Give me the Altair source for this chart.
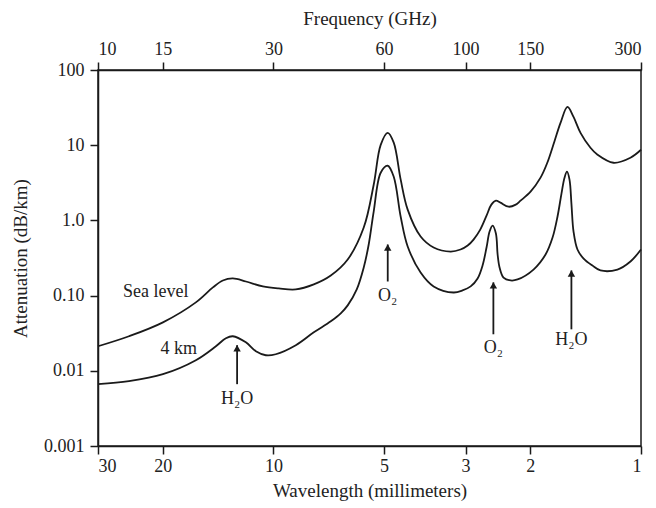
import altair as alt
import pandas as pd

# Sea level curve (frequency GHz, attenuation dB/km)
sea_f = [10, 12.14, 15.02, 18.46, 20.54, 21.86, 23.27, 25.25, 28.08, 31.03,
         34.52, 38.64, 42.98, 47.78, 52.83, 56.23, 58.75, 61.38,
         63.75, 66.59, 69.57, 75.44, 81.85, 91.03, 96.86, 101.3, 105.1, 109.6,
         114.0, 117.5, 120.9, 124.4, 130.9, 136.9, 141.1, 150.2, 159.9, 166.8,
         174.6, 181.2, 189.3, 196.6, 205.4, 218.6, 228.5, 252.5, 280.8, 300]
sea_a = [0.0212, 0.0288, 0.0441, 0.0813, 0.1285, 0.159, 0.169, 0.154, 0.1325, 0.1245,
         0.121, 0.141, 0.185, 0.302, 0.803, 2.98, 10.1, 14.6,
         10.8, 3.48, 1.39, 0.61, 0.436, 0.385, 0.410, 0.463, 0.556, 0.755,
         1.158, 1.62, 1.83, 1.72, 1.52, 1.62, 1.83, 2.41, 3.70, 5.84,
         11.4, 19.8, 32.3, 23.8, 14.6, 9.24, 7.46, 5.84, 6.81, 8.69]

# 4 km curve
km_f = [10, 12.14, 15.02, 18.46, 20.93, 22.28, 23.27, 25.25, 26.88, 28.61,
        30.45, 34.52, 38.64, 42.98, 45.74, 47.78, 50.57, 52.83, 54.50, 56.23,
        58.75, 61.38, 63.75, 66.59, 69.57, 75.44, 81.85,
        92.74, 98.1, 103.2, 107.8, 111.2, 114.0, 116.2, 118.4, 120.9, 122.2,
        123.7, 126.8, 132.6, 138.5, 153.0, 165.0, 172.4, 177.8, 182.3, 185.8,
        188.7, 191.7, 194.1, 196.6, 201.5, 209.4, 221.3, 232.7, 258.8, 280.8, 300]
km_a = [0.00664, 0.00728, 0.00901, 0.01382, 0.0212, 0.0271, 0.0288, 0.0239, 0.0182, 0.0161,
        0.0166, 0.0219, 0.0325, 0.0455, 0.0581, 0.0741, 0.121, 0.2366, 0.478, 1.31,
        4.30, 5.33, 3.81, 1.12, 0.45, 0.203, 0.1325,
        0.110, 0.1172, 0.1325, 0.169, 0.2515, 0.436, 0.710, 0.853, 0.668, 0.352,
        0.2366, 0.174, 0.159, 0.164, 0.222, 0.352, 0.591, 1.12, 2.27, 3.70,
        4.44, 3.48, 1.62, 0.710, 0.410, 0.311, 0.251, 0.216, 0.222, 0.284, 0.410]

# Annotation arrows: x (GHz), tail, tip (dB/km), label and label position
arr_f = [23.9, 61.4, 119, 194]
arr_tail = [0.00664, 0.154, 0.0306, 0.0356]
arr_tip = [0.0219, 0.478, 0.150, 0.216]
arr_lab = ["H\u2082O", "O\u2082", "O\u2082", "H\u2082O"]
arr_lab_y = [0.0042, 0.0975, 0.020, 0.0255]

curve_lab = ["Sea level", "4 km"]
curve_lab_f = [11.7, 14.8]
curve_lab_a = [0.110, 0.0193]

tick_vals = [10, 15, 30, 60, 100, 150, 300]
y_vals = [0.001, 0.01, 0.1, 1, 10, 100]

FONT = "Liberation Serif"
INK = "#1a1a1a"
TXT = "#222222"

df = pd.DataFrame(
    [{"f": f, "a": a, "s": "Sea level"} for f, a in zip(sea_f, sea_a)]
    + [{"f": f, "a": a, "s": "4 km"} for f, a in zip(km_f, km_a)]
)
arr = pd.DataFrame({"f": arr_f, "tail": arr_tail, "tip": arr_tip,
                    "lab": arr_lab, "ly": arr_lab_y})
clab = pd.DataFrame({"lab": curve_lab, "f": curve_lab_f, "a": curve_lab_a})

xs = alt.Scale(type="log", domain=[10, 300], nice=False)
ys = alt.Scale(type="log", domain=[0.001, 100], nice=False)

common_axis = dict(domainColor=INK, domainWidth=1.5, tickColor=INK, tickWidth=1.5,
                   tickSize=8, labelFont=FONT, labelFontSize=18, labelColor=TXT,
                   titleFont=FONT, titleFontSize=19, titleFontWeight="normal",
                   titleColor=TXT, grid=False)

bottom_axis = alt.Axis(orient="bottom", values=tick_vals, title="Wavelength (millimeters)",
                       labelExpr="format(300/datum.value, 'd')", labelPadding=3,
                       titlePadding=6, **common_axis)
top_axis = alt.Axis(orient="top", values=tick_vals, title="Frequency (GHz)",
                    labelExpr="format(datum.value, 'd')", labelPadding=4,
                    titlePadding=12, **common_axis)
left_axis = alt.Axis(orient="left", values=y_vals, title="Attenuation (dB/km)",
                     labelExpr="datum.value < 0.005 ? '0.001' : datum.value < 0.05 ? '0.01' : datum.value < 0.5 ? '0.10' : datum.value < 5 ? '1.0' : datum.value < 50 ? '10' : '100'",
                     labelPadding=6, titlePadding=13, **common_axis)

lines = alt.Chart(df).mark_line(interpolate="catmull-rom", color=INK, strokeWidth=1.8).encode(
    x=alt.X("f:Q", scale=xs, axis=bottom_axis),
    y=alt.Y("a:Q", scale=ys, axis=left_axis),
    detail="s:N",
)

shafts = alt.Chart(arr).mark_rule(color=INK, strokeWidth=1.8).encode(
    x=alt.X("f:Q", scale=xs, axis=top_axis),
    y=alt.Y("tail:Q", scale=ys, axis=None),
    y2="tip:Q",
)

heads = alt.Chart(arr).mark_point(shape="triangle-up", filled=True, color=INK,
                                  size=55, opacity=1, yOffset=3).encode(
    x=alt.X("f:Q", scale=xs, axis=None),
    y=alt.Y("tip:Q", scale=ys, axis=None),
)

arr_text = alt.Chart(arr).mark_text(font=FONT, fontSize=18, color=TXT,
                                    baseline="middle", align="center").encode(
    x=alt.X("f:Q", scale=xs, axis=None),
    y=alt.Y("ly:Q", scale=ys, axis=None),
    text="lab:N",
)

curve_text = alt.Chart(clab).mark_text(font=FONT, fontSize=18, color=TXT,
                                       baseline="middle", align="left").encode(
    x=alt.X("f:Q", scale=xs, axis=None),
    y=alt.Y("a:Q", scale=ys, axis=None),
    text="lab:N",
)

chart = alt.layer(lines, shafts, heads, arr_text, curve_text).resolve_axis(
    x="independent", y="independent"
).properties(
    width=543, height=376,
    autosize=alt.AutoSizeParams(type="none"),
    padding={"left": 98, "top": 70, "right": 15, "bottom": 62},
).configure_view(stroke=INK, strokeWidth=1.5)

chart.save("out.html", embed_options={"renderer": "svg", "actions": False})
